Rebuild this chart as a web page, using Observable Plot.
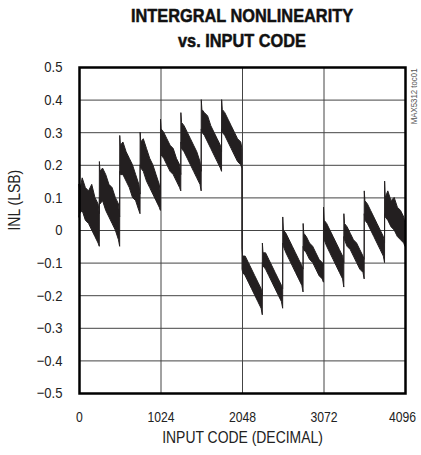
<!DOCTYPE html>
<html>
<head>
<meta charset="utf-8">
<script src="https://cdn.jsdelivr.net/npm/d3@7"></script>
<script src="https://cdn.jsdelivr.net/npm/@observablehq/plot@0.6"></script>
<style>
  html, body { margin: 0; padding: 0; background: #fff; }
  #wrap { width: 421px; height: 455px; position: relative; overflow: hidden; }
  #title { position: absolute; left: 42px; width: 400px; top: 3px; text-align: center;
    font-family: "Liberation Sans", Arial, sans-serif; font-weight: bold;
    font-size: 19px; line-height: 25px; color: #111; -webkit-text-stroke: 0.5px #111;
    transform: scaleX(0.86); transform-origin: 200px 0; }
  #chart { position: absolute; left: 0; top: 50px; }
</style>
</head>
<body>
<div id="wrap">
  <div id="title">INTERGRAL NONLINEARITY<br>vs. INPUT CODE</div>
  <div id="chart"></div>
</div>
<script>
// Input code sample positions (DECIMAL)
const inlCode = [
  0, 8, 40, 80, 120, 160, 200, 240, 255,
  256, 264, 296, 336, 376, 416, 456, 496, 511,
  512, 520, 552, 592, 632, 672, 712, 752, 767,
  768, 776, 808, 848, 888, 928, 968, 1008, 1023,
  1024, 1032, 1064, 1104, 1144, 1184, 1224, 1264, 1279,
  1280, 1288, 1320, 1360, 1400, 1440, 1480, 1520, 1535,
  1536, 1544, 1576, 1616, 1656, 1696, 1736, 1776, 1791,
  1792, 1800, 1832, 1872, 1912, 1952, 1992, 2032, 2047,
  2048, 2056, 2088, 2128, 2168, 2208, 2248, 2288, 2303,
  2304, 2312, 2344, 2384, 2424, 2464, 2504, 2544, 2559,
  2560, 2568, 2600, 2640, 2680, 2720, 2760, 2800, 2815,
  2816, 2824, 2856, 2896, 2936, 2976, 3016, 3056, 3071,
  3072, 3080, 3112, 3152, 3192, 3232, 3272, 3312, 3327,
  3328, 3336, 3368, 3408, 3448, 3488, 3528, 3568, 3583,
  3584, 3592, 3624, 3664, 3704, 3744, 3784, 3824, 3839,
  3840, 3848, 3880, 3920, 3960, 4000, 4040, 4080, 4095
];
// Upper edge of the INL trace (LSB)
const inlHigh = [
  0.14, 0.12, 0.16, 0.13, 0.12, 0.14, 0.10, 0.08, 0.05,
  0.21, 0.18, 0.19, 0.17, 0.14, 0.13, 0.10, 0.08, 0.04,
  0.29, 0.26, 0.27, 0.24, 0.22, 0.20, 0.17, 0.14, 0.11,
  0.30, 0.27, 0.28, 0.25, 0.22, 0.20, 0.17, 0.14, 0.11,
  0.34, 0.31, 0.30, 0.28, 0.26, 0.25, 0.22, 0.20, 0.17,
  0.36, 0.33, 0.32, 0.30, 0.28, 0.26, 0.24, 0.21, 0.18,
  0.40, 0.37, 0.36, 0.35, 0.32, 0.30, 0.28, 0.26, 0.24,
  0.40, 0.37, 0.36, 0.34, 0.32, 0.30, 0.28, 0.27, 0.25,
  -0.055, -0.08, -0.08, -0.10, -0.12, -0.14, -0.16, -0.18, -0.20,
  -0.04, -0.07, -0.07, -0.09, -0.11, -0.13, -0.15, -0.17, -0.18,
  0.04, 0.00, -0.01, -0.03, -0.05, -0.07, -0.09, -0.11, -0.12,
  0.02, -0.01, -0.02, -0.04, -0.05, -0.07, -0.09, -0.10, -0.11,
  0.07, 0.03, 0.02, 0.00, -0.02, -0.04, -0.06, -0.08, -0.10,
  0.05, 0.02, 0.01, -0.01, -0.03, -0.04, -0.06, -0.08, -0.09,
  0.12, 0.09, 0.08, 0.06, 0.04, 0.02, 0.00, -0.02, -0.04,
  0.15, 0.10, 0.12, 0.09, 0.10, 0.07, 0.06, 0.04, 0.02
];
// Lower edge of the INL trace (LSB)
const inlLow = [
  0.04, 0.05, 0.06, 0.03, 0.02, 0.00, -0.02, -0.04, -0.05,
  0.10, 0.08, 0.09, 0.06, 0.04, 0.02, 0.00, -0.03, -0.05,
  0.18, 0.17, 0.17, 0.15, 0.13, 0.10, 0.09, 0.06, 0.05,
  0.20, 0.19, 0.18, 0.15, 0.13, 0.11, 0.09, 0.07, 0.06,
  0.25, 0.23, 0.22, 0.20, 0.18, 0.17, 0.15, 0.13, 0.12,
  0.27, 0.25, 0.24, 0.22, 0.20, 0.18, 0.16, 0.14, 0.12,
  0.31, 0.30, 0.29, 0.27, 0.25, 0.23, 0.21, 0.19, 0.18,
  0.31, 0.30, 0.29, 0.27, 0.25, 0.23, 0.21, 0.20, 0.19,
  -0.12, -0.13, -0.14, -0.16, -0.18, -0.20, -0.22, -0.24, -0.26,
  -0.10, -0.11, -0.12, -0.14, -0.16, -0.18, -0.20, -0.22, -0.24,
  -0.04, -0.05, -0.07, -0.09, -0.11, -0.13, -0.15, -0.17, -0.19,
  -0.05, -0.06, -0.07, -0.09, -0.10, -0.12, -0.14, -0.15, -0.16,
  -0.02, -0.03, -0.05, -0.07, -0.09, -0.11, -0.13, -0.15, -0.175,
  -0.02, -0.03, -0.05, -0.06, -0.08, -0.10, -0.12, -0.13, -0.15,
  0.05, 0.03, 0.02, 0.00, -0.02, -0.04, -0.06, -0.08, -0.10,
  0.05, 0.04, 0.03, 0.01, 0.00, -0.02, -0.03, -0.04, -0.05
];
const xTicks = [0, 1024, 2048, 3072];
const xLastTick = [4096];
const yTicks = [-0.5, -0.4, -0.3, -0.2, -0.1, 0, 0.1, 0.2, 0.3, 0.4, 0.5];
const xGrid = [1024, 2048, 3072];
const yGrid = [-0.4, -0.3, -0.2, -0.1, 0, 0.1, 0.2, 0.3, 0.4];
const xLabel = "INPUT CODE (DECIMAL)";
const yLabel = "INL (LSB)";
const tocLabel = "MAX5312 toc01";

const data = inlCode.map((c, i) => ({code: c, hi: inlHigh[i], lo: inlLow[i]}));
const fmtY = d => d === 0 ? "0" : d3.format(".1f")(d);
const fmtX = d => String(d);

const chart = Plot.plot({
  width: 421,
  height: 405,
  marginLeft: 79,
  marginRight: 16,
  marginTop: 17,
  marginBottom: 62,
  style: {fontFamily: "'Liberation Sans', Arial, sans-serif", fontSize: "15px", color: "#222", background: "#fff"},
  x: {domain: [0, 4096]},
  y: {domain: [-0.5, 0.5]},
  marks: [
    Plot.gridX(xGrid, {stroke: "#444", strokeOpacity: 1, strokeWidth: 1}),
    Plot.gridY(yGrid, {stroke: "#444", strokeOpacity: 1, strokeWidth: 1}),
    Plot.areaY(data, {x: "code", y1: "lo", y2: "hi", fill: "#231f20", stroke: "#231f20", strokeWidth: 1}),
    Plot.frame({stroke: "#000", strokeWidth: 2.5}),
    Plot.axisX(xTicks, {tickSize: 0, tickPadding: 18, label: null, tickFormat: fmtX, fontSize: 14.5, className: "cxx"}),
    Plot.axisX(xLastTick, {tickSize: 0, tickPadding: 18, label: null, tickFormat: fmtX, fontSize: 14.5, dx: -3, className: "cxx"}),
    Plot.axisY(yTicks, {tickSize: 0, tickPadding: 17, label: null, tickFormat: fmtY, fontSize: 15, className: "cx"}),
    Plot.text([xLabel], {frameAnchor: "bottom", dy: 49, fontSize: 16, fill: "#222", className: "cx"}),
    Plot.text([yLabel], {frameAnchor: "left", dx: -65, rotate: -90, fontSize: 16, fill: "#222", className: "cx"}),
    Plot.text([tocLabel], {frameAnchor: "top-right", dx: 5, dy: 1, rotate: -90, textAnchor: "end", fontSize: 9, fill: "#555", className: "cx"})
  ]
});
document.getElementById("chart").appendChild(chart);
// condense glyphs (narrow Helvetica look)
function condense(sel, k) {
  chart.querySelectorAll(sel).forEach(t => {
    const w = t.getComputedTextLength();
    if (w > 0) {
      t.setAttribute("textLength", (w * k).toFixed(2));
      t.setAttribute("lengthAdjust", "spacingAndGlyphs");
    }
  });
}
condense(".cx text", 0.87);
condense(".cxx text", 0.84);
</script>
</body>
</html>
